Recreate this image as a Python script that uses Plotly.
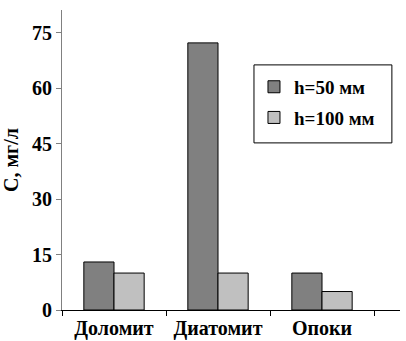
import plotly.graph_objects as go

categories = ["Доломит", "Диатомит", "Опоки"]
h50 = [13, 72.3, 10]
h100 = [10, 10, 5]
series_names = ["h=50 мм", "h=100 мм"]
y_ticks = [0, 15, 30, 45, 60, 75]

FONT = "Liberation Serif"

fig = go.Figure()
fig.add_trace(go.Bar(x=categories, y=h50, name=series_names[0], legendgroup="a",
                     marker=dict(color="#808080", line=dict(color="#000000", width=1))))
fig.add_trace(go.Bar(x=categories, y=h100, name=series_names[1], legendgroup="b",
                     marker=dict(color="#c0c0c0", line=dict(color="#000000", width=1))))

# legend frame
fig.add_shape(type="rect", xref="paper", yref="paper",
              x0=0.568, x1=0.976, y0=0.557, y1=0.817,
              line=dict(color="#000000", width=1), fillcolor="rgba(0,0,0,0)", layer="above")

fig.update_layout(
    width=406, height=341,
    margin=dict(l=62, r=6, t=10, b=31),
    paper_bgcolor="white", plot_bgcolor="white",
    font=dict(family=FONT, size=20, color="black", weight="bold"),
    barmode="group", bargap=0.42, bargroupgap=0,
    legend=dict(x=0.568, y=0.807, xanchor="left", yanchor="top",
                borderwidth=0, bgcolor="rgba(0,0,0,0)",
                font=dict(family=FONT, size=19, color="black", weight="bold"),
                tracegroupgap=3, traceorder="grouped"),
    xaxis=dict(type="category", range=[-0.5, 2.75], showgrid=False, automargin=False,
               showline=True, linecolor="#000000", linewidth=1,
               ticks="outside", tickson="boundaries", ticklen=5, tickcolor="#000000",
               tickfont=dict(family=FONT, size=20, color="black", weight="bold")),
    yaxis=dict(range=[0, 81.2], tickvals=y_ticks, showgrid=False, zeroline=False,
               automargin=False,
               showline=True, linecolor="#808080", linewidth=1,
               ticks="outside", ticklen=5, tickcolor="#808080",
               tickfont=dict(family=FONT, size=20, color="black", weight="bold"),
               title=dict(text="С, мг/л", standoff=8,
                          font=dict(family=FONT, size=20, color="black", weight="bold"))),
)

fig.write_html("out.html", config={"displayModeBar": False},
               post_script="document.body.style.margin='0';")
